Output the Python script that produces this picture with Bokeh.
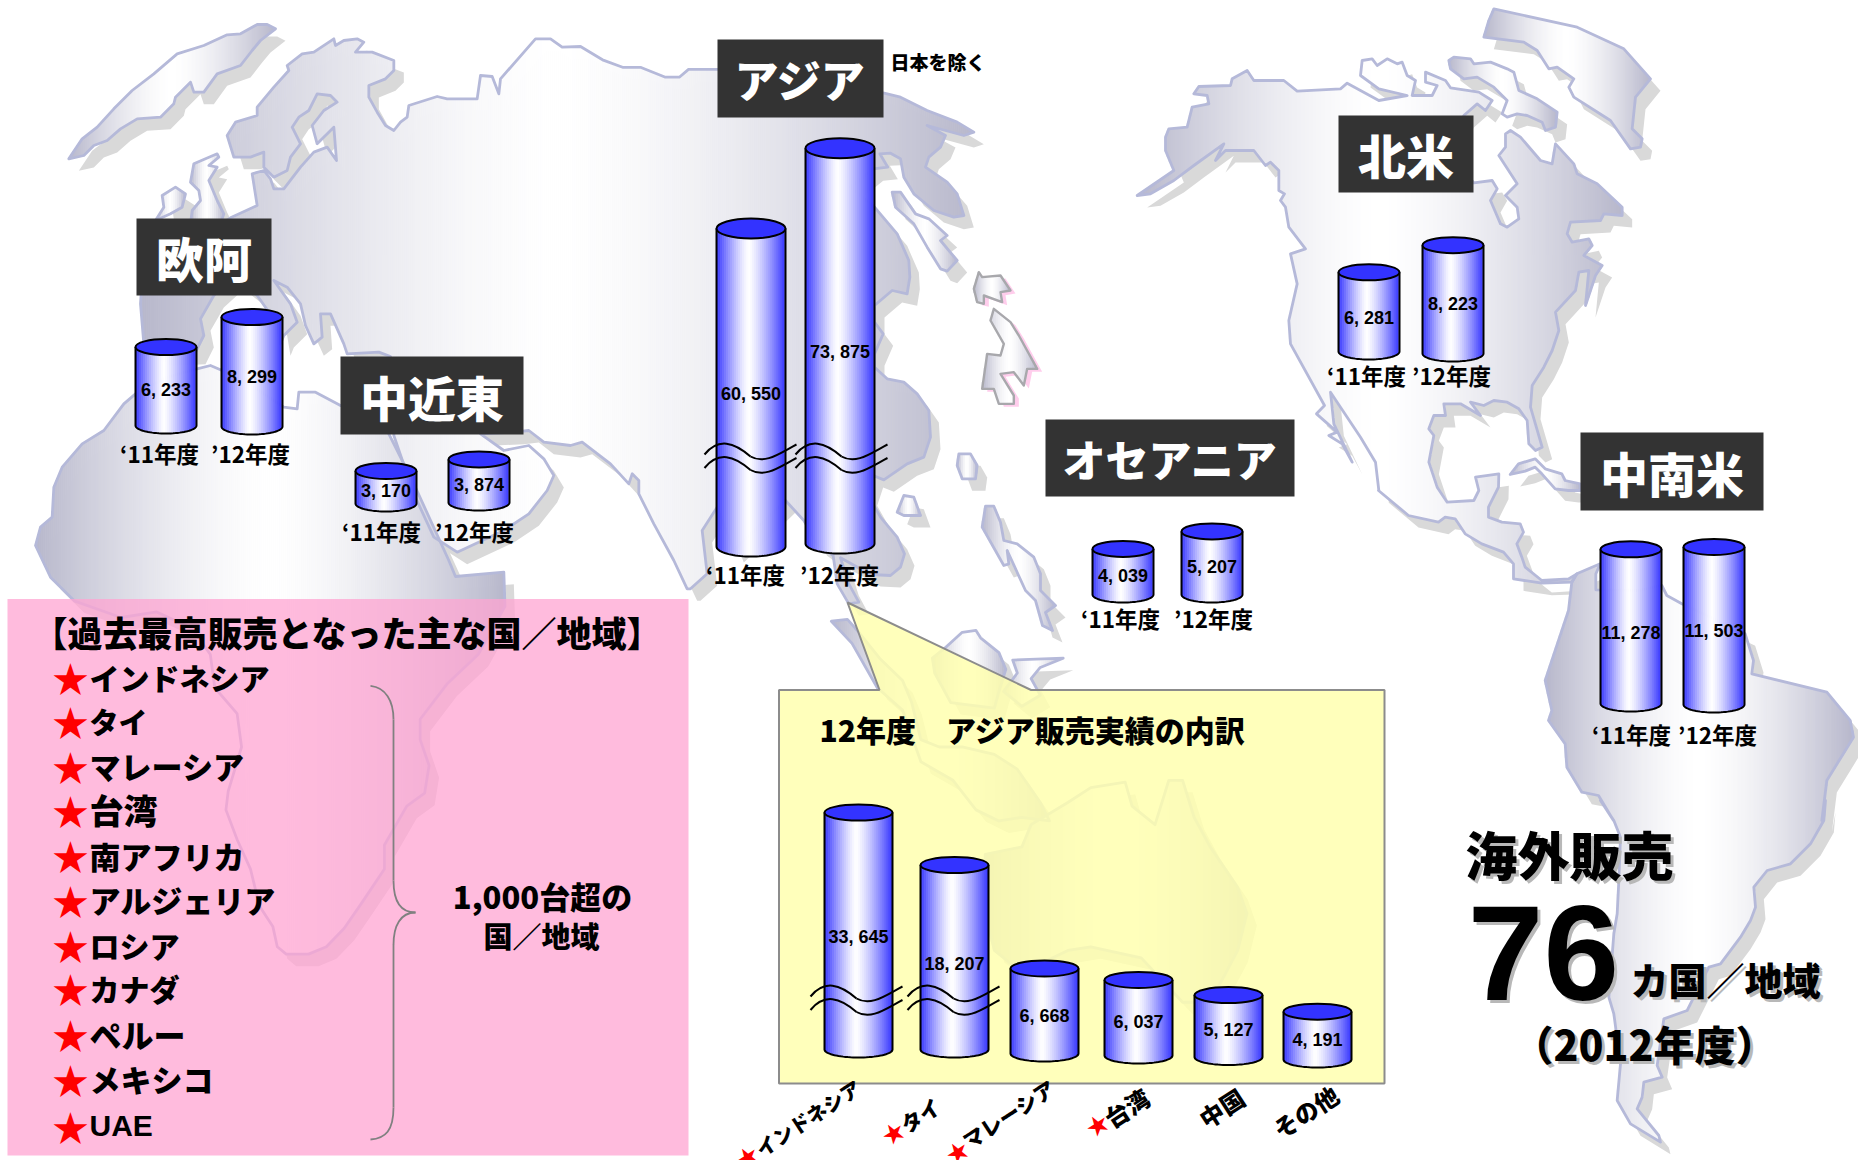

import numpy as np
from bokeh.plotting import figure
from bokeh.models import ColumnDataSource, Range1d
from bokeh.core.properties import value
from bokeh.embed import file_html
from bokeh.resources import INLINE

# ---- sales figures (units) ----
regions = ["欧阿", "中近東", "アジア", "オセアニア", "北米", "中南米"]
sales_fy11 = [6233, 3170, 60550, 4039, 6281, 11278]
sales_fy12 = [8299, 3874, 73875, 5207, 8223, 11503]
year_labels = ["‘11年度", "’12年度"]

asia_names = ["インドネシア", "タイ", "マレーシア", "台湾", "中国", "その他"]
asia_stars = [True, True, True, True, False, False]
asia_sales = [33645, 18207, 6668, 6037, 5127, 4191]

record_countries = ["インドネシア", "タイ", "マレーシア", "台湾", "南アフリカ", "アルジェリア",
                    "ロシア", "カナダ", "ペルー", "メキシコ", "UAE"]

# ---- bar layout, in sheet pixels ----
region_boxes = [(136, 271, 218, 295), (340, 523, 356, 434), (717, 883, 39, 117),
                (1045, 1294, 419, 496), (1338, 1473, 115, 192), (1580, 1763, 432, 510)]
region_title_size = [48, 48, 44, 43, 48, 48]
left_fy11 = [135, 355, 716, 1092, 1338, 1600]
left_fy12 = [221, 448, 805, 1181, 1422, 1683]
base_fy11 = [425, 503, 546, 594, 351, 703]
base_fy12 = [426, 502, 543, 594, 353, 704]
value_y_fy11 = [389, 490, 393, 575, 317, 632]
value_y_fy12 = [376, 484, 351, 566, 303, 630]
year_x_fy11 = [159, 381, 745, 1120, 1366, 1631]
year_x_fy12 = [250, 474, 839, 1213, 1451, 1717]
year_y = [452.5, 530.5, 573.5, 617.5, 374.5, 733.5]

asia_left = [824, 920, 1010, 1104, 1194, 1283]
asia_base = [1049, 1049, 1053, 1055, 1056.5, 1059]
asia_value_y = [936, 963, 1015, 1021, 1029.5, 1039]


def plain_height(v):
    return 0.015 * (v - 1000)


def asia_region_height(v):
    # the two tall Asia columns sit on a broken scale
    return 0.0058 * (v - 5723)


def asia_detail_height(v):
    # the two tall country columns sit on their own broken scale
    return 0.0034 * (v + 36056)


def fmt(v):
    return f"{v:,}".replace(",", ", ")


# ---- coastline outlines: each block has its own origin and scale ----
def frame(ox, oy, sx, sy, pts):
    return [(ox + a / sx, oy + b / sy) for a, b in pts]


W = (60, 10, 3, 3)            # Europe, north Atlantic
T = (0, 0, 1.686, 2.613)      # Arctic coast
E = (800, 60, 3, 3)           # Far East
S = (400, 370, 3, 3)          # South Asia
M = (0, 270, 3, 3)            # Africa north
A = (0, 580, 2.24, 2.703)     # Africa south
I = (700, 580, 2.178, 2.703)  # Indonesia, Australia
N = (1130, 0, 3, 3)           # North America
C = (1338, 400, 3, 3)         # Central America
L = (1400, 780, 3, 3)         # South America south

eurasia = (
    frame(*W, [(240, 880), (245, 800), (480, 640), (510, 622), (590, 585), (575, 490), (610, 480), (630, 505),
               (640, 535), (670, 535), (720, 470), (760, 425), (800, 410), (828, 450), (820, 350), (770, 400),
               (755, 345), (790, 300), (830, 275), (810, 255), (770, 250), (745, 300), (715, 320), (695, 350),
               (720, 400), (690, 440), (680, 480), (640, 500), (610, 470), (610, 425), (570, 440), (520, 440),
               (500, 375), (525, 335), (590, 315), (590, 290), (640, 230), (685, 180), (680, 165), (725, 130),
               (760, 125), (820, 85), (825, 105), (850, 90), (890, 85), (910, 95), (885, 125), (935, 125),
               (1000, 150), (1000, 180), (975, 205), (925, 225), (925, 260), (950, 305), (975, 345), (1000, 360),
               (1020, 335), (1040, 320), (1045, 285), (1130, 258), (1160, 265), (1250, 265), (1260, 195),
               (1295, 198), (1315, 250), (1320, 205), (1425, 85), (1470, 85), (1505, 110), (1560, 108)])
    + frame(*T, [(1015, 155), (1050, 175), (1080, 175), (1120, 200), (1145, 200), (1160, 180), (1209, 180),
                 (1400, 200)])
    + frame(*E, [(248, 97), (300, 110), (380, 150), (470, 185), (520, 215), (490, 225), (380, 195), (435, 225),
                 (420, 260), (385, 290), (375, 320), (440, 365), (470, 400), (490, 465), (460, 470), (400, 450),
                 (340, 400), (310, 350), (300, 295), (270, 278), (238, 280), (262, 320), (218, 325), (150, 380),
                 (222, 440), (290, 520), (325, 600), (328, 650), (320, 700), (275, 690), (222, 735), (222, 785),
                 (248, 820), (222, 880), (222, 920), (260, 955), (310, 965), (350, 1000), (385, 1050), (390, 1130),
                 (370, 1190), (320, 1210), (250, 1258), (218, 1245), (200, 1300), (240, 1370), (290, 1430),
                 (312, 1480)])
    + frame(*S, [(1500, 590), (1470, 615), (1410, 612), (1320, 562), (1345, 640), (1375, 695), (1345, 700),
                 (1310, 640), (1298, 555), (1250, 520), (1210, 450), (1155, 390), (1000, 540), (950, 410),
                 (905, 480), (920, 610), (870, 655), (860, 655), (820, 570), (760, 460), (715, 370), (715, 330),
                 (695, 310), (685, 340), (630, 280), (545, 215), (510, 225), (430, 215), (385, 180), (340, 185),
                 (240, 190), (310, 240), (385, 225), (430, 265), (460, 315), (440, 360), (385, 430), (310, 480),
                 (170, 545), (100, 500), (40, 370)])
    + frame(*M, [(1180, 495), (1180, 400), (1170, 258), (1135, 245), (1040, 250)])
    + frame(*W, [(860, 1030), (850, 1000), (810, 910), (780, 910), (785, 980), (760, 1000), (735, 945), (720, 880),
                 (680, 830), (640, 810), (690, 880), (710, 935), (670, 975), (660, 1000), (650, 940), (590, 855),
                 (520, 800), (460, 855), (420, 925), (430, 975), (405, 1025), (300, 1030), (250, 1000)])
)
africa = (
    frame(*M, [(105, 825), (120, 770), (155, 740), (160, 650), (185, 590), (245, 520), (310, 480), (370, 400),
               (405, 370), (500, 320), (590, 295), (630, 285), (665, 300), (760, 350), (850, 410), (890, 415),
               (895, 365), (945, 365), (1020, 405), (1100, 420), (1165, 490), (1240, 640), (1345, 870), (1365, 918),
               (1510, 905)])
    + frame(*A, [(1130, 70), (1070, 200), (1000, 280), (940, 375), (940, 430), (960, 500), (950, 575), (910, 610),
                 (860, 715), (860, 780), (810, 870), (770, 940), (730, 990), (690, 1010), (640, 1010), (620, 990),
                 (610, 935), (580, 880), (560, 780), (530, 700), (505, 620), (510, 570), (540, 450), (530, 360),
                 (480, 290), (470, 200), (430, 130), (350, 85), (270, 100), (165, 55)])
    + frame(*M, [(150, 920)])
)
north_america = (
    frame(*N, [(20, 585), (130, 510), (105, 450), (105, 410), (115, 385), (170, 380), (185, 320), (235, 310),
               (230, 285), (190, 280), (205, 258), (300, 255), (305, 235), (350, 210), (370, 240), (460, 240),
               (500, 272), (630, 265), (650, 248), (745, 300), (830, 285), (745, 265), (690, 225), (695, 180),
               (725, 175), (740, 195), (770, 175), (800, 190), (815, 185), (830, 225), (855, 240), (845, 285),
               (905, 285), (920, 255), (885, 245), (885, 215), (945, 240), (960, 262), (1045, 275), (1085, 300),
               (1065, 330), (1040, 310), (1000, 345), (950, 450), (1030, 547), (1085, 540), (1100, 565), (1080, 600),
               (1110, 670), (1130, 680), (1165, 655), (1160, 620), (1125, 585), (1160, 550), (1105, 465), (1125, 440),
               (1125, 400), (1140, 390), (1170, 410), (1230, 480), (1265, 490), (1275, 430), (1330, 490), (1340, 520),
               (1400, 550), (1475, 620), (1475, 645), (1420, 640), (1410, 660), (1320, 665), (1310, 700), (1325, 725),
               (1375, 715), (1385, 735), (1360, 765), (1415, 795), (1395, 825), (1365, 915), (1375, 810), (1345, 815),
               (1335, 870), (1275, 935), (1285, 990), (1265, 1050), (1240, 1100), (1205, 1155), (1200, 1220),
               (1235, 1340), (1215, 1350), (1195, 1330), (1190, 1260), (1165, 1225), (1130, 1205), (1090, 1200),
               (1060, 1215), (1020, 1205), (1050, 1245), (990, 1210), (940, 1210), (945, 1245), (910, 1245),
               (895, 1285), (910, 1305), (895, 1385), (920, 1460), (950, 1505), (1030, 1500), (1045, 1470),
               (1035, 1430), (1105, 1420)])
    + frame(*C, [(480, 260), (450, 320), (450, 350), (490, 365), (545, 370), (555, 395), (535, 430), (550, 470),
                 (560, 500), (610, 540), (690, 535), (715, 520), (700, 545), (610, 548), (525, 535), (525, 490),
                 (495, 455), (430, 430), (380, 400), (350, 355), (320, 350), (300, 365), (210, 345), (120, 270)])
    + frame(*N, [(745, 1470), (735, 1385), (690, 1310), (600, 1175), (610, 1270), (665, 1385), (635, 1330),
                 (595, 1305), (620, 1295), (558, 1240), (582, 1215), (480, 1030), (475, 960), (500, 850), (480, 760),
                 (525, 745), (475, 680), (465, 620), (450, 600), (462, 580), (445, 570), (445, 510), (420, 485),
                 (405, 495), (370, 450), (285, 450), (255, 480), (280, 430), (190, 495), (130, 540), (60, 580)])
)
south_america = (
    frame(*C, [(715, 520), (785, 490), (772, 520), (772, 568), (900, 570), (970, 555), (985, 585), (1030, 610),
               (1200, 690), (1220, 700), (1245, 780), (1240, 820), (1465, 875), (1535, 960), (1545, 1010),
               (1465, 1140), (1450, 1260)])
    + frame(*L, [(1275, 60), (1270, 120), (1230, 190), (1170, 250), (1100, 270), (1060, 320), (1065, 380), (1050, 420),
                 (1020, 470), (960, 550), (925, 560), (880, 650), (860, 690), (790, 715), (770, 855), (785, 890),
                 (730, 905), (725, 950), (710, 985), (775, 1065), (780, 1085), (690, 1030), (650, 960), (660, 850),
                 (640, 700), (625, 650), (640, 460), (650, 400), (655, 300), (660, 170), (640, 120), (600, 60)])
    + frame(*C, [(825, 1260), (780, 1185), (730, 1175), (685, 1100), (680, 1030), (630, 960), (640, 930), (620, 840),
                 (690, 630), (700, 545)])
)
greenland = frame(*N, [(1090, 25), (1340, 80), (1480, 145), (1560, 235), (1515, 290), (1505, 385), (1535, 415),
                       (1530, 440), (1500, 445), (1440, 360), (1330, 290), (1315, 260), (1330, 235), (1280, 200),
                       (1255, 205), (1220, 150), (1180, 125), (1060, 110), (1075, 60)])
baffin = frame(*N, [(955, 180), (970, 170), (1020, 175), (1030, 190), (1080, 185), (1130, 205), (1150, 215), (1165, 270),
                    (1220, 295), (1280, 335), (1275, 380), (1245, 390), (1235, 365), (1190, 345), (1160, 340),
                    (1130, 350), (1115, 340), (1130, 300), (1090, 260), (1040, 230), (1000, 235), (960, 205)])
cuba = frame(*C, [(515, 222), (540, 190), (590, 175), (620, 205), (670, 220), (680, 240), (725, 250), (725, 270),
                  (690, 270), (650, 265), (610, 220), (590, 200), (560, 212)])
arctic_isle = frame(*W, [(25, 445), (65, 385), (110, 350), (160, 295), (215, 240), (280, 190), (350, 130), (430, 105),
                         (500, 73), (540, 70), (590, 42), (620, 42), (645, 55), (600, 90), (575, 120), (540, 165),
                         (470, 190), (430, 245), (400, 245), (390, 215), (345, 260), (340, 280), (300, 320), (230, 325),
                         (180, 355), (140, 390), (100, 405), (70, 435)])
britain = frame(*W, [(400, 460), (435, 445), (470, 430), (475, 440), (445, 465), (470, 470), (445, 510), (470, 570),
                     (490, 610), (480, 640), (390, 640), (395, 600), (420, 570), (415, 540), (390, 515)])
ireland = frame(*W, [(305, 555), (345, 530), (375, 550), (365, 590), (330, 610), (285, 630), (310, 590)])
sakhalin = frame(*E, [(275, 395), (300, 395), (345, 460), (385, 475), (440, 525), (420, 540), (470, 600), (440, 632),
                      (420, 625), (380, 560), (340, 490), (285, 440)])
formosa = frame(*E, [(475, 1180), (510, 1180), (530, 1215), (525, 1255), (485, 1255), (470, 1215)])
hainan = frame(*E, [(310, 1305), (340, 1310), (360, 1365), (310, 1365), (290, 1355)])
philippines = frame(*E, [(555, 1337), (580, 1337), (600, 1385), (610, 1440), (650, 1450), (700, 1490), (720, 1540),
                         (720, 1590), (765, 1635), (735, 1656), (756, 1710), (726, 1695), (705, 1620), (675, 1590),
                         (620, 1470), (625, 1510), (610, 1515), (545, 1400)])
sumatra = frame(*I, [(285, 110), (320, 105), (345, 140), (390, 210), (440, 270), (460, 330), (480, 430), (520, 450),
                     (570, 450), (640, 470), (690, 510), (740, 600), (760, 650), (700, 640), (650, 650), (600, 620),
                     (550, 540), (480, 490), (440, 350), (385, 290), (330, 170)])
borneo = frame(*I, [(530, 185), (570, 140), (600, 135), (610, 155), (650, 195), (665, 240), (650, 300), (640, 345),
                    (545, 330), (510, 250), (505, 210)])
celebes = frame(*I, [(680, 215), (790, 210), (740, 235), (720, 265), (740, 310), (700, 340), (660, 300), (690, 250)])
australia = frame(*I, [(620, 740), (700, 720), (720, 660), (800, 600), (850, 560), (925, 545), (940, 610), (990, 660),
                       (1020, 540), (1050, 540), (1075, 640), (1110, 720), (1170, 830), (1190, 900), (1170, 1000),
                       (1110, 1140), (1050, 1140), (960, 1020), (850, 990), (800, 1000), (700, 1060), (640, 1000),
                       (620, 900)])
honshu_north = frame(*E, [(535, 635), (545, 650), (600, 645), (630, 690), (600, 695), (605, 725), (550, 705), (550, 730),
                          (530, 725), (520, 685)])
honshu = frame(*E, [(580, 745), (630, 785), (655, 825), (710, 925), (680, 925), (670, 975), (640, 935), (600, 940),
                    (640, 1005), (640, 1030), (595, 1030), (580, 985), (545, 985), (560, 880), (600, 885), (610, 850),
                    (570, 780)])

land = [eurasia, africa, north_america, south_america, greenland, baffin, cuba, arctic_isle, britain, ireland,
        sakhalin, formosa, hainan, philippines, sumatra, borneo, celebes, australia]
home = [honshu_north, honshu]


def fill_columns(poly, step=2.0):
    """Even-odd scan of a polygon into vertical runs, shaded white at its centre and blue-grey at its ends."""
    xs = np.array([p[0] for p in poly] + [poly[0][0]])
    ys = np.array([p[1] for p in poly] + [poly[0][1]])
    lo, hi = xs.min(), xs.max()
    mid, half = (lo + hi) / 2, (hi - lo) / 2
    out = {"x": [], "y0": [], "y1": [], "c": []}
    for c in np.arange(lo + step / 2, hi, step):
        crossing = []
        for i in range(len(xs) - 1):
            a, b = xs[i], xs[i + 1]
            if (a <= c < b) or (b <= c < a):
                crossing.append(ys[i] + (c - a) / (b - a) * (ys[i + 1] - ys[i]))
        crossing.sort()
        t = min(1.0, abs(c - mid) / half) ** 1.5
        col = "#%02x%02x%02x" % (round(255 - 72 * t), round(255 - 72 * t), round(255 - 52 * t))
        for k in range(0, len(crossing) - 1, 2):
            out["x"].append(c)
            out["y0"].append(crossing[k])
            out["y1"].append(crossing[k + 1])
            out["c"].append(col)
    return out


p = figure(width=1858, height=1160, output_backend="svg", toolbar_location=None,
           x_range=Range1d(0, 1858), y_range=Range1d(1160, 0),
           x_axis_type=None, y_axis_type=None, min_border=0, outline_line_color=None,
           background_fill_color="white", border_fill_color="white")
p.grid.visible = False

# ---- map ----
SHADOW_DX, SHADOW_DY = 10, 12
p.patches([[q[0] + SHADOW_DX for q in poly] for poly in land],
          [[q[1] + SHADOW_DY for q in poly] for poly in land],
          fill_color="#d9d9d9", line_color=None)
p.patches([[q[0] + 5 for q in poly] for poly in home],
          [[q[1] + 3 for q in poly] for poly in home],
          fill_color="#ffcdec", line_color=None)

for poly in land + home:
    d = fill_columns(poly)
    p.segment(x0="x", y0="y0", x1="x", y1="y1", line_color="c", line_width=2.7, line_cap="butt",
              source=ColumnDataSource(d))
p.patches([[q[0] for q in poly] + [poly[0][0]] for poly in land],
          [[q[1] for q in poly] + [poly[0][1]] for poly in land],
          fill_color=None, line_color="#b5b9d9", line_width=2.8, line_join="round")
p.patches([[q[0] for q in poly] + [poly[0][0]] for poly in home],
          [[q[1] for q in poly] + [poly[0][1]] for poly in home],
          fill_color=None, line_color="#a8a8ac", line_width=2.4, line_join="round")

# ---- overlays ----
p.patch([7, 688, 688, 7], [598.5, 598.5, 1155, 1155], fill_color="#ffa4d2", fill_alpha=0.75, line_color=None)
p.patch([778.5, 879, 847, 1030.6, 1384, 1384, 778.5], [689.5, 689.5, 602, 689.5, 689.5, 1083, 1083],
        fill_color="#ffffaf", fill_alpha=0.85, line_color="#8c8c8c", line_width=2)


# ---- columns ----
def column(left, width, base, h, ry):
    """A cylinder standing on `base`, `h` tall, shaded across its width."""
    top = base - h
    step = 2.0
    cs = np.arange(left + step / 2, left + width, step)
    u = (cs - left) / width
    edge = np.sqrt(np.clip(1 - (2 * u - 1) ** 2, 0, 1))
    bend = np.where(u < 0.47, (0.47 - u) / 0.47, (u - 0.47) / 0.53) ** 1.3
    cols = ["#%02x%02xff" % (round(255 - 204 * s), round(255 - 204 * s)) for s in bend]
    p.segment(x0=cs, y0=np.full(len(cs), top), x1=cs, y1=base + ry * edge, line_color=cols,
              line_width=2.7, line_cap="butt")
    th = np.linspace(0, np.pi, 41)
    ox = np.concatenate([[left], left + width / 2 - width / 2 * np.cos(th), [left + width]])
    oy = np.concatenate([[top], base + ry * np.sin(th), [top]])
    p.line(ox, oy, line_color="black", line_width=2)
    p.ellipse([left + width / 2], [top], width=width, height=2 * ry, fill_color="#3333ff",
              line_color="black", line_width=2)


def value_text(x, y, v):
    p.text([x], [y], text=[fmt(v)], text_font=value("Liberation Sans"), text_font_style="bold",
           text_font_size="18px", text_align="center", text_baseline="middle", text_color="black")


def break_mark(x, y, w=92, amp=6.5):
    """Double wavy cut across a broken column."""
    for dy in (0, 13.5):
        p.bezier(x0=[x, x + 0.5 * w], y0=[y + dy + 4, y + dy + 6],
                 x1=[x + 0.5 * w, x + w], y1=[y + dy + 6, y + dy - 6],
                 cx0=[x + 0.15 * w, x + 0.66 * w], cy0=[y + dy - 2 * amp, y + dy + 2.2 * amp],
                 cx1=[x + 0.32 * w, x + 0.82 * w], cy1=[y + dy - 1.3 * amp, y + dy + 0.4 * amp],
                 line_color="black", line_width=2)


HEAVY = value("Noto Sans CJK JP Black")
BOLD = value("Noto Sans CJK JP")
for i, name in enumerate(regions):
    x0, x1, y0, y1 = region_boxes[i]
    p.quad(left=[x0], right=[x1], top=[y0], bottom=[y1], fill_color="#333333", line_color=None)
    p.text([(x0 + x1) / 2], [(y0 + y1) / 2], text=[name], text_font=HEAVY,
           text_font_size=f"{region_title_size[i]}px", text_align="center", text_baseline="middle",
           text_color="white")

    broken = name == "アジア"
    width, ry = (69, 10) if broken else (61, 8)
    height = asia_region_height if broken else plain_height
    for left, base, v, vy, yx, yl in ((left_fy11[i], base_fy11[i], sales_fy11[i], value_y_fy11[i], year_x_fy11[i], year_labels[0]),
                                      (left_fy12[i], base_fy12[i], sales_fy12[i], value_y_fy12[i], year_x_fy12[i], year_labels[1])):
        column(left, width, base, height(v), ry)
        value_text(left + width / 2, vy, v)
        p.text([yx], [year_y[i]], text=[yl], text_font=BOLD, text_font_style="bold", text_font_size="22.5px",
               text_align="center", text_baseline="middle", text_color="black")
    if broken:
        break_mark(704, 450)
        break_mark(795, 450)

p.text([890], [61], text=["日本を除く"], text_font=HEAVY, text_font_size="19px",
       text_align="left", text_baseline="middle", text_color="black")

# ---- Asia breakdown ----
p.text([819], [728], text=["12年度　アジア販売実績の内訳"], text_font=HEAVY,
       text_font_size="30px", text_align="left", text_baseline="middle", text_color="black")
for i, v in enumerate(asia_sales):
    h = asia_detail_height(v) if i < 2 else plain_height(v)
    column(asia_left[i], 68, asia_base[i], h, 8)
    value_text(asia_left[i] + 34, asia_value_y[i], v)
break_mark(810, 992, w=92)
break_mark(907, 992, w=92)

ROT = np.deg2rad(33)
star_xy = [(746, 1155), (892, 1131), (956, 1150), (1096, 1123), None, None]
name_xy = [(757, 1150), (902, 1126), (964, 1142), (1106, 1120), (1221, 1107), (1305, 1111)]
name_size = ["20px", "21px", "21px", "24px", "24px", "24px"]
for i, nm in enumerate(asia_names):
    if asia_stars[i]:
        p.text([star_xy[i][0]], [star_xy[i][1]], text=["★"], text_font=BOLD, text_font_size="22px", angle=ROT,
               text_align="center", text_baseline="middle", text_color="#ff0000")
    p.text([name_xy[i][0]], [name_xy[i][1]], text=[nm], text_font=HEAVY,
           text_font_size=name_size[i], angle=ROT, text_align="left" if asia_stars[i] else "center",
           text_baseline="middle", text_color="black")

# ---- record-sales list ----
p.text([347], [631], text=["【過去最高販売となった主な国／地域】"], text_font=HEAVY,
       text_font_size="35px", text_align="center", text_baseline="middle", text_color="black")
row_y = [676, 720, 765, 809, 854.5, 899, 944, 987.7, 1033, 1078, 1125]
row_size = [30, 29, 31, 34, 31, 31, 30, 30, 32, 31, 30]
for i, nm in enumerate(record_countries):
    p.text([70], [row_y[i]], text=["★"], text_font=BOLD, text_font_size="36px", text_align="center",
           text_baseline="middle", text_color="#ff0000")
    if nm == "UAE":
        p.text([89], [row_y[i]], text=[nm], text_font=value("Liberation Sans"), text_font_style="bold",
               text_font_size=f"{row_size[i]}px", text_align="left", text_baseline="middle", text_color="black")
    else:
        p.text([89], [row_y[i]], text=[nm], text_font=HEAVY, text_font_size=f"{row_size[i]}px",
               text_align="left", text_baseline="middle", text_color="black")
p.bezier(x0=[370, 393, 415, 393], y0=[685.4, 880, 912, 1107],
         x1=[393, 415, 393, 370], y1=[719, 912, 944.4, 1139],
         cx0=[385, 393, 400, 393], cy0=[687, 900, 912, 1130],
         cx1=[393, 400, 393, 385], cy1=[700, 912, 925, 1138],
         line_color="#808080", line_width=1.8)
p.segment(x0=[393, 393], y0=[719, 944.4], x1=[393, 393], y1=[880, 1107], line_color="#808080", line_width=1.8)
p.text([542], [895], text=["1,000台超の"], text_font=HEAVY, text_font_size="31px",
       text_align="center", text_baseline="middle", text_color="black")
p.text([541], [934], text=["国／地域"], text_font=HEAVY, text_font_size="29px",
       text_align="center", text_baseline="middle", text_color="black")

# ---- overseas count headline ----
headline = [
    (1569, 853, "海外販売", "52px", "Noto Sans CJK JP Black", "center", "normal"),
    (1543, 952, "76", "136px", "Liberation Sans", "center", "bold"),
    (1630, 978, "カ国／地域", "38px", "Noto Sans CJK JP Black", "left", "normal"),
    (1644, 1042, "（2012年度）", "41px", "Noto Sans CJK JP Black", "center", "normal"),
]
for colour, off in (("#b8b8b8", 3), ("black", 0)):
    for x, y, txt, size, font, align, style in headline:
        p.text([x + off], [y + off], text=[txt], text_font=value(font), text_font_style=style,
               text_font_size=size, text_align=align, text_baseline="middle", text_color=colour)

open("out.html", "w").write(file_html(p, INLINE))
